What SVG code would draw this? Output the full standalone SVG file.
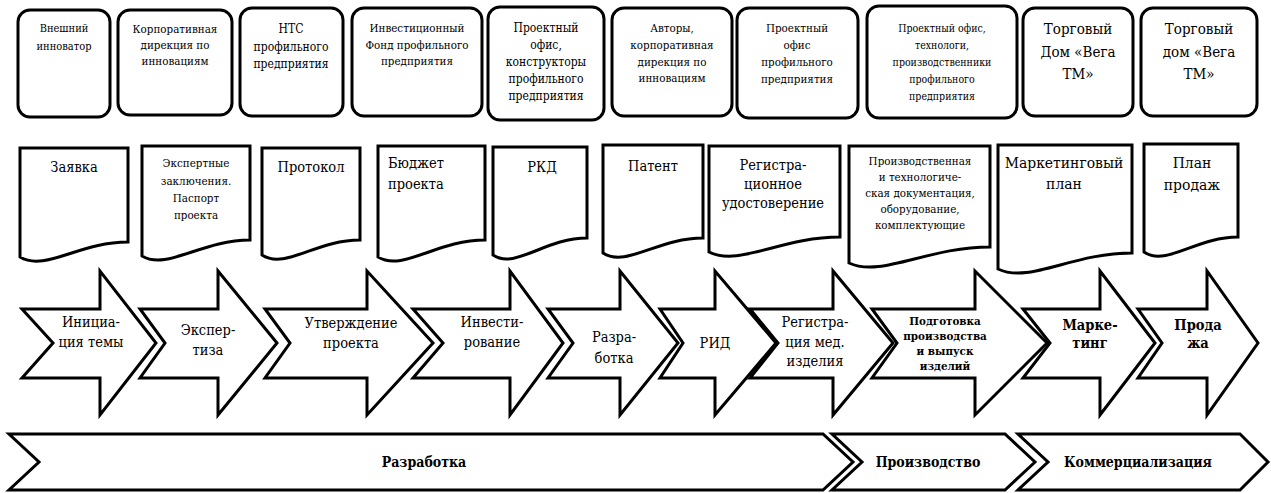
<svg xmlns="http://www.w3.org/2000/svg" width="1271" height="493" viewBox="0 0 1271 493">
<style>
.sh{fill:#fff;stroke:#000;stroke-width:3;stroke-linejoin:miter}
text{font-family:'DejaVu Serif Condensed','DejaVu Serif',serif;font-stretch:condensed}
.t{fill:#000;text-anchor:middle}
.s11{font-size:11.5px}
.s14{font-size:14.5px}
.s15{font-size:15.5px}
.b{font-weight:bold}
</style>
<rect width="1271" height="493" fill="#fff"/>
<g id="actors">
<g id="actor1"><rect class="sh" x="18" y="10" width="92" height="107" rx="12"/><text class="t" style="font-size:11px"><tspan x="64" y="32">Внешний</tspan><tspan x="64" y="50">инноватор</tspan></text></g>
<g id="actor2"><rect class="sh" x="118" y="10" width="114" height="105" rx="12"/><text class="t s11"><tspan x="175" y="33">Корпоративная</tspan><tspan x="175" y="49">дирекция по</tspan><tspan x="175" y="65">инновациям</tspan></text></g>
<g id="actor3"><rect class="sh" x="240" y="8" width="103" height="108" rx="12"/><text class="t" style="font-size:12px"><tspan x="291" y="33">НТС</tspan><tspan x="291" y="51">профильного</tspan><tspan x="291" y="68">предприятия</tspan></text></g>
<g id="actor4"><rect class="sh" x="352" y="8" width="130" height="108" rx="12"/><text class="t s11"><tspan x="417" y="32">Инвестиционный</tspan><tspan x="417" y="49">Фонд профильного</tspan><tspan x="417" y="65">предприятия</tspan></text></g>
<g id="actor5"><rect class="sh" x="488" y="7" width="116" height="113" rx="12"/><text class="t" style="font-size:12px"><tspan x="546" y="32">Проектный</tspan><tspan x="546" y="49">офис,</tspan><tspan x="546" y="66">конструкторы</tspan><tspan x="546" y="83">профильного</tspan><tspan x="546" y="100">предприятия</tspan></text></g>
<g id="actor6"><rect class="sh" x="612" y="8" width="120" height="108" rx="12"/><text class="t s11"><tspan x="672" y="32">Авторы,</tspan><tspan x="672" y="49">корпоративная</tspan><tspan x="672" y="66">дирекция по</tspan><tspan x="672" y="82">инновациям</tspan></text></g>
<g id="actor7"><rect class="sh" x="737" y="8" width="121" height="110" rx="12"/><text class="t s11"><tspan x="797" y="32">Проектный</tspan><tspan x="797" y="49">офис</tspan><tspan x="797" y="66">профильного</tspan><tspan x="797" y="83">предприятия</tspan></text></g>
<g id="actor8"><rect class="sh" x="867" y="6" width="150" height="112" rx="12"/><text class="t" style="font-size:10.5px"><tspan x="942" y="32">Проектный офис,</tspan><tspan x="942" y="49">технологи,</tspan><tspan x="942" y="66">производственники</tspan><tspan x="942" y="83">профильного</tspan><tspan x="942" y="100">предприятия</tspan></text></g>
<g id="actor9"><rect class="sh" x="1023" y="8" width="110" height="108" rx="12"/><text class="t" style="font-size:15px"><tspan x="1078" y="34">Торговый</tspan><tspan x="1078" y="57">Дом «Вега</tspan><tspan x="1078" y="79">ТМ»</tspan></text></g>
<g id="actor10"><rect class="sh" x="1141" y="8" width="116" height="108" rx="12"/><text class="t" style="font-size:15px"><tspan x="1199" y="34">Торговый</tspan><tspan x="1199" y="57">дом «Вега</tspan><tspan x="1199" y="79">ТМ»</tspan></text></g>
</g>
<g id="documents">
<g id="doc1"><path class="sh" d="M20,148 H128 V242 C79,242 45,272 20,257 Z"/><text class="t s14" x="74" y="172">Заявка</text></g>
<g id="doc2"><path class="sh" d="M142,146 H250 V240 C201,240 167,271 142,256 Z"/><text class="t" style="font-size:11.5px"><tspan x="196" y="167">Экспертные</tspan><tspan x="196" y="185">заключения.</tspan><tspan x="196" y="202">Паспорт</tspan><tspan x="196" y="219">проекта</tspan></text></g>
<g id="doc3"><path class="sh" d="M262,148 H360 V240 C316,240 285,270 262,255 Z"/><text class="t s14" x="311" y="172">Протокол</text></g>
<g id="doc4"><path class="sh" d="M378,146 H485 V240 C437,240 403,272 378,257 Z"/><text class="t s14" style="text-anchor:start"><tspan x="388" y="168">Бюджет</tspan><tspan x="388" y="189">проекта</tspan></text></g>
<g id="doc5"><path class="sh" d="M493,147 H587 V238 C545,238 515,270 493,255 Z"/><text class="t s14" x="542" y="172">РКД</text></g>
<g id="doc6"><path class="sh" d="M603,145 H703 V238 C658,238 626,268 603,253 Z"/><text class="t s14" x="653" y="171">Патент</text></g>
<g id="doc7"><path class="sh" d="M709,146 H840 V237 C781,237 739,267 709,252 Z"/><text class="t s14"><tspan x="773" y="170">Регистра-</tspan><tspan x="773" y="189">ционное</tspan><tspan x="773" y="208">удостоверение</tspan></text></g>
<g id="doc8"><path class="sh" d="M849,146 H990 V247 C927,247 881,278 849,263 Z"/><text class="t" style="font-size:11.5px"><tspan x="920" y="165">Производственная</tspan><tspan x="920" y="181">и технологиче-</tspan><tspan x="920" y="197">ская документация,</tspan><tspan x="920" y="213">оборудование,</tspan><tspan x="920" y="229">комплектующие</tspan></text></g>
<g id="doc9"><path class="sh" d="M998,145 H1132 V253 C1072,253 1029,284 998,269 Z"/><text class="t s15"><tspan x="1064" y="168">Маркетинговый</tspan><tspan x="1064" y="189">план</tspan></text></g>
<g id="doc10"><path class="sh" d="M1144,144 H1238 V237 C1196,237 1166,267 1144,252 Z"/><text class="t s15"><tspan x="1192" y="168">План</tspan><tspan x="1192" y="190">продаж</tspan></text></g>
</g>
<g id="stages">
<g id="stage1"><path class="sh" d="M22,309 H100 V271 L156,343 L100,415 V378 H22 L53,343 Z"/><text class="t s14"><tspan x="91" y="327">Инициа-</tspan><tspan x="91" y="347">ция темы</tspan></text></g>
<g id="stage2"><path class="sh" d="M140,309 H218 V271 L277,343 L218,415 V378 H140 L165,343 Z"/><text class="t s14"><tspan x="208" y="335">Экспер-</tspan><tspan x="208" y="355">тиза</tspan></text></g>
<g id="stage3"><path class="sh" d="M265,309 H367 V271 L433,343 L367,415 V378 H265 L290,343 Z"/><text class="t s14"><tspan x="351" y="328">Утверждение</tspan><tspan x="351" y="348">проекта</tspan></text></g>
<g id="stage4"><path class="sh" d="M413,309 H510 V271 L563,343 L510,415 V378 H413 L443,343 Z"/><text class="t s14"><tspan x="492" y="327">Инвести-</tspan><tspan x="492" y="347">рование</tspan></text></g>
<g id="stage5"><path class="sh" d="M548,309 H620 V271 L678,343 L620,415 V378 H548 L573,343 Z"/><text class="t s14"><tspan x="614" y="342">Разра-</tspan><tspan x="614" y="363">ботка</tspan></text></g>
<g id="stage6"><path class="sh" d="M660,309 H715 V271 L776,343 L715,415 V378 H660 L683,343 Z"/><text class="t s14" x="715" y="348">РИД</text></g>
<g id="stage7"><path class="sh" d="M750,309 H833 V271 L893,343 L833,415 V378 H750 L778,343 Z"/><text class="t s14"><tspan x="815" y="327">Регистра-</tspan><tspan x="815" y="347">ция мед.</tspan><tspan x="815" y="366">изделия</tspan></text></g>
<g id="stage8"><path class="sh" d="M872,309 H975 V271 L1047,343 L975,415 V378 H872 L897,343 Z"/><text class="t b" style="font-size:11.5px"><tspan x="945" y="325">Подготовка</tspan><tspan x="945" y="340">производства</tspan><tspan x="945" y="355">и выпуск</tspan><tspan x="945" y="370">изделий</tspan></text></g>
<g id="stage9"><path class="sh" d="M1023,309 H1100 V271 L1155,343 L1100,415 V378 H1023 L1050,343 Z"/><text class="t b s14"><tspan x="1090" y="330">Марке-</tspan><tspan x="1090" y="348">тинг</tspan></text></g>
<g id="stage10"><path class="sh" d="M1138,309 H1207 V271 L1258,343 L1207,415 V378 H1138 L1162,343 Z"/><text class="t b s14"><tspan x="1198" y="330">Прода</tspan><tspan x="1198" y="348">жа</tspan></text></g>
</g>
<g id="phases">
<g id="phase1"><path class="sh" d="M9,434 H823 L853,462 L823,490 H9 L39,462 Z"/><text class="t b" style="font-size:14px" x="424" y="467">Разработка</text></g>
<g id="phase2"><path class="sh" d="M832,434 H1005 L1035,462 L1005,490 H832 L862,462 Z"/><text class="t b" style="font-size:14px" x="928" y="467">Производство</text></g>
<g id="phase3"><path class="sh" d="M1018,434 H1240 L1268,462 L1240,490 H1018 L1048,462 Z"/><text class="t b" style="font-size:14px" x="1138" y="467">Коммерциализация</text></g>
</g>
<g id="connectors"/>
</svg>
